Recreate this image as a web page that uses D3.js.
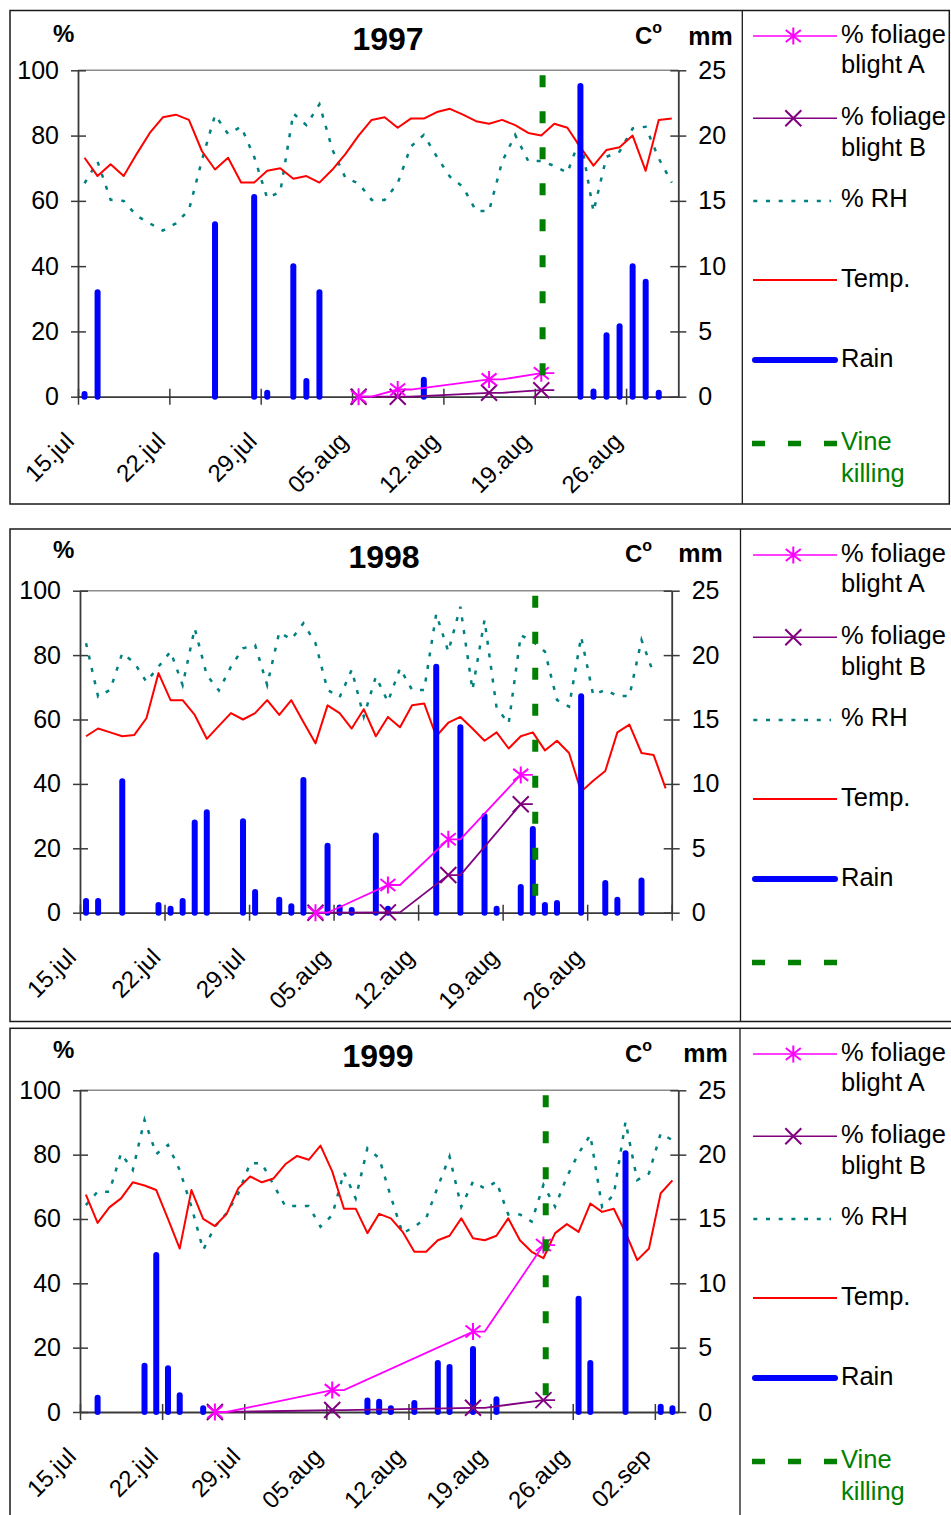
<!DOCTYPE html>
<html><head><meta charset="utf-8">
<script src="https://cdn.jsdelivr.net/npm/d3@7"></script>
<style>
body{margin:0;background:#fff}
svg{display:block}
text{font-family:Arial,"Liberation Sans",sans-serif}
</style></head>
<body><svg id="c" width="951" height="1515"></svg>
<script>
// ---------------- DATA ----------------
// 1997 (day index 0 = 15 jul)
const days1997 = 46;
const tickLabels1997 = ["15.jul","22.jul","29.jul","05.aug","12.aug","19.aug","26.aug"];
const temp1997 = [18.3,16.9,17.8,16.9,18.6,20.2,21.4,21.6,21.2,18.8,
                  17.4,18.3,16.4,16.4,17.3,17.5,16.7,16.9,16.4,17.4,
                  18.6,20.0,21.2,21.4,20.6,21.3,21.3,21.8,22.05,21.6,
                  21.1,20.9,21.2,20.8,20.2,20.0,20.9,20.6,19.1,17.7,
                  18.9,19.1,20.0,17.3,21.2,21.3];
const rh1997 = [65.4,72.0,60.3,60.0,55.4,53.1,50.9,53.1,57.2,72.5,
                86.3,80.5,82.7,73.5,60.8,62.8,86.8,83.2,89.6,75.6,
                67.0,65.4,60.3,60.3,65.4,76.6,80.2,73.5,67.4,64.3,
                56.9,56.9,72.0,80.2,72.2,72.2,70.7,68.6,79.5,56.7,
                73.5,75.1,82.2,82.7,73.0,65.6];
const rainDays1997 = [0,1,10,13,14,16,17,18,26,38,39,40,41,42,43,44];
const rain1997 =     [0.2,8.0,13.2,15.3,0.3,10.0,1.2,8.0,1.3,23.8,0.4,4.7,5.4,10.0,8.8,0.3];
const blightDays1997 = [21,22,24,25,31,32,35,36];
const blightA1997 =    [0,0,2.2,2.2,5.3,5.3,7.2,7.2];
const blightB1997 =    [0,0,0,0,1.2,1.2,2.0,2.0];
const markerDays1997 = [21,24,31,35];
const vineKill1997 = 35.1;

// 1998
const days1998 = 49;
const tickLabels1998 = ["15.jul","22.jul","29.jul","05.aug","12.aug","19.aug","26.aug"];
const temp1998 = [13.7,14.3,14.0,13.7,13.8,15.1,18.6,16.5,16.5,15.35,
                  13.5,14.5,15.5,15.0,15.5,16.5,15.35,16.5,14.8,13.15,
                  16.1,15.5,14.3,15.8,13.7,15.2,14.4,16.1,16.25,13.7,
                  14.75,15.2,14.3,13.35,14.0,12.75,13.7,14.0,12.6,13.35,
                  12.4,9.4,10.25,11.0,14.0,14.6,12.4,12.25,9.65];
const rh1998 = [83.7,67.1,69.2,80.6,77.6,71.7,76.4,81.1,70.7,88.3,
                73.8,69.0,76.4,82.1,83.1,70.7,87.1,84.9,89.9,83.7,
                69.2,66.9,75.4,60.9,73.3,65.5,75.9,69.2,69.2,92.8,
                81.1,95.0,69.2,90.9,63.6,58.8,86.2,84.2,81.1,66.1,
                64.0,85.7,67.6,69.2,67.3,67.3,84.7,74.3];
const rainDays1998 = [0,1,3,6,7,8,9,10,13,14,16,17,18,20,21,22,24,25,29,31,33,34,36,37,38,39,41,43,44,46];
const rain1998 =     [0.9,0.9,10.2,0.6,0.3,0.9,7.0,7.8,7.1,1.6,1.0,0.5,10.3,5.2,0.4,0.2,6.0,0.3,19.1,14.4,7.5,0.3,2.0,6.5,0.6,0.75,16.8,2.3,1.0,2.5];
const blightDays1998 = [19,20,25,26,30,31,36,37];
const blightA1998 =    [0,0,8.6,8.6,22.8,22.8,42.8,42.8];
const blightB1998 =    [0,0,0.1,0.1,11.7,11.7,33.7,33.7];
const markerDays1998 = [19,25,30,36];
const vineKill1998 = 37.2;

// 1999
const days1999 = 51;
const tickLabels1999 = ["15.jul","22.jul","29.jul","05.aug","12.aug","19.aug","26.aug","02.sep"];
const temp1999 = [16.9,14.7,15.9,16.6,17.85,17.6,17.25,15.0,12.7,17.25,
                  15.0,14.45,15.4,17.4,18.3,17.85,18.15,19.25,19.9,19.6,
                  20.7,18.7,15.8,15.8,13.9,15.4,15.05,14.0,12.45,12.45,
                  13.35,13.7,15.05,13.5,13.35,13.7,15.05,13.35,12.45,11.95,
                  13.9,14.6,14.0,16.2,15.55,15.8,13.95,11.8,12.7,17.0,18.0];
const rh1999 = [64.3,68.5,68.5,80.4,75.2,90.8,80.2,83.0,75.2,63.8,
                50.4,57.6,61.8,68.0,77.3,77.3,70.6,64.0,64.0,64.0,
                57.6,61.2,74.5,66.4,82.0,78.9,66.9,55.5,57.6,60.2,
                70.0,79.4,63.8,71.6,69.5,71.6,61.4,61.4,59.2,70.6,
                63.8,73.1,80.4,86.1,63.8,67.5,90.2,72.1,74.2,86.6,84.5];
const rainDays1999 = [1,5,6,7,8,10,24,25,26,28,30,31,33,35,42,43,46,49,50];
const rain1999 =     [1.1,3.6,12.2,3.4,1.3,0.3,0.9,0.8,0.3,0.7,3.8,3.5,4.9,1.0,8.8,3.8,20.1,0.4,0.3];
const blightDays1999 = [11,12,21,22,33,34,39,40];
const blightA1999 =    [0,0,6.8,6.8,25.0,25.0,51.9,51.9];
const blightB1999 =    [0,0,0.6,0.6,1.3,1.3,3.7,3.7];
const markerDays1999 = [11,21,33,39];
const vineKill1999 = 39.2;

const legendLabels = ["% foliage|blight A","% foliage|blight B","% RH","Temp.","Rain","Vine|killing"];

// ---------------- LAYOUT ----------------
const layout = [
  {year:"1997", box:[10,10.5,939.3,493.5], sep:742.3, left:78, right:678.3, top:70.3, bottom:396.7,
   pct:[63.7,41.7], title:[388,50], cdeg:[635,44.3], mm:[688.3,45], legDy:0, vineText:true},
  {year:"1998", box:[10,529,960,492.5], sep:740.5, left:80, right:671.7, top:590.7, bottom:912.7,
   pct:[63.7,558.3], title:[384,568.3], cdeg:[625,561.7], mm:[678.3,561.7], legDy:519, vineText:false},
  {year:"1999", box:[10,1028.3,960,520], sep:740, left:80, right:678.3, top:1090.3, bottom:1412,
   pct:[63.7,1058.3], title:[378,1067.3], cdeg:[625,1061.7], mm:[683.3,1062.3], legDy:1018, vineText:true}
];
const dataSets = [
  {nDays:days1997, ticks:tickLabels1997, temp:temp1997, rh:rh1997, rainDays:rainDays1997, rain:rain1997,
   bDays:blightDays1997, A:blightA1997, B:blightB1997, mDays:markerDays1997, vine:vineKill1997},
  {nDays:days1998, ticks:tickLabels1998, temp:temp1998, rh:rh1998, rainDays:rainDays1998, rain:rain1998,
   bDays:blightDays1998, A:blightA1998, B:blightB1998, mDays:markerDays1998, vine:vineKill1998},
  {nDays:days1999, ticks:tickLabels1999, temp:temp1999, rh:rh1999, rainDays:rainDays1999, rain:rain1999,
   bDays:blightDays1999, A:blightA1999, B:blightB1999, mDays:markerDays1999, vine:vineKill1999}
];

const C = {A:"#ff00ff", B:"#800080", rh:"#008080", temp:"#ff0000", rain:"#0000ff", vine:"#008000", axis:"#3a3a3a"};
const asteriskPath = "M0,-8.5V8.5M-7.5,-6L7.5,6M-7.5,6L7.5,-6";
const xPath = "M-8,-8L8,8M-8,8L8,-8";

const svg = d3.select("#c");

function styleAxis(ax, fs){
  ax.select(".domain").attr("stroke",C.axis).attr("stroke-width",1.8);
  ax.selectAll(".tick line").attr("stroke",C.axis).attr("stroke-width",1.5);
  ax.selectAll(".tick text").attr("font-size",fs).attr("fill","#000")
    .attr("font-family",'Arial,"Liberation Sans",sans-serif');
}

function drawPanel(L, D){
  const g = svg.append("g");
  const [bx,by,bw,bh] = L.box;
  g.append("rect").attr("x",bx).attr("y",by).attr("width",bw).attr("height",bh)
    .attr("fill","none").attr("stroke","#1a1a1a").attr("stroke-width",1.5);
  g.append("line").attr("x1",L.sep).attr("x2",L.sep).attr("y1",by).attr("y2",by+bh)
    .attr("stroke","#1a1a1a").attr("stroke-width",1.3);

  const x = d3.scaleLinear().domain([0,D.nDays]).range([L.left,L.right]);
  const xc = d => x(d+0.5);
  const yL = d3.scaleLinear().domain([0,100]).range([L.bottom,L.top]);
  const yR = d3.scaleLinear().domain([0,25]).range([L.bottom,L.top]);

  // headings
  g.append("text").attr("x",L.pct[0]).attr("y",L.pct[1]).attr("text-anchor","middle")
    .attr("font-size",24).attr("font-weight","bold").text("%");
  g.append("text").attr("x",L.title[0]).attr("y",L.title[1]).attr("text-anchor","middle")
    .attr("font-size",32).attr("font-weight","bold").text(L.year);
  const cd = g.append("text").attr("x",L.cdeg[0]).attr("y",L.cdeg[1])
    .attr("font-size",24).attr("font-weight","bold");
  cd.append("tspan").text("C");
  cd.append("tspan").attr("font-size",16).attr("dy",-11).text("o");
  g.append("text").attr("x",L.mm[0]).attr("y",L.mm[1])
    .attr("font-size",25).attr("font-weight","bold").text("mm");

  // frame top
  g.append("line").attr("x1",L.left).attr("x2",L.right).attr("y1",L.top).attr("y2",L.top)
    .attr("stroke","#8c8c8c").attr("stroke-width",1.5);

  // axes
  const axL = g.append("g").attr("transform",`translate(${L.left},0)`)
    .call(d3.axisLeft(yL).tickValues(d3.range(0,101,20)).tickSize(0).tickSizeOuter(0).tickPadding(19));
  styleAxis(axL, 25);
  axL.selectAll(".tick line").attr("x1",-7).attr("x2",8);

  const axR = g.append("g").attr("transform",`translate(${L.right},0)`)
    .call(d3.axisRight(yR).tickValues(d3.range(0,26,5)).tickSize(0).tickSizeOuter(0).tickPadding(20));
  styleAxis(axR, 25);
  axR.selectAll(".tick line").attr("x1",-8).attr("x2",8);

  const axB = g.append("g").attr("transform",`translate(0,${L.bottom})`)
    .call(d3.axisBottom(x).tickValues(d3.range(0,D.nDays+0.01,7)).tickSize(0).tickSizeOuter(0)
      .tickFormat((d,i)=>D.ticks[i]||""));
  styleAxis(axB, 24);
  axB.selectAll(".tick line").attr("y1",-8).attr("y2",8);
  axB.selectAll(".tick text").attr("x",-3).attr("y",46).attr("dy",null)
    .attr("text-anchor","end").attr("transform","rotate(-45,-3,46)");

  // RH
  g.append("path").attr("d",d3.line().x((v,i)=>xc(i)).y(v=>yL(v))(D.rh))
    .attr("fill","none").attr("stroke",C.rh).attr("stroke-width",2.5).attr("stroke-dasharray","4,8.7");
  // Temp
  g.append("path").attr("d",d3.line().x((v,i)=>xc(i)).y(v=>yR(v))(D.temp))
    .attr("fill","none").attr("stroke",C.temp).attr("stroke-width",2).attr("stroke-linejoin","round");
  // Rain
  g.append("g").selectAll("line").data(D.rainDays.map((d,i)=>[d,D.rain[i]])).join("line")
    .attr("x1",d=>xc(d[0])).attr("x2",d=>xc(d[0])).attr("y1",yR(0)).attr("y2",d=>yR(d[1]))
    .attr("stroke",C.rain).attr("stroke-width",6).attr("stroke-linecap","round");
  // Blight
  [["B",C.B,xPath],["A",C.A,asteriskPath]].forEach(([k,col,mk])=>{
    const pts = D.bDays.map((d,i)=>[d,D[k][i]]);
    g.append("path").attr("d",d3.line().x(p=>xc(p[0])).y(p=>yL(p[1]))(pts))
      .attr("fill","none").attr("stroke",col).attr("stroke-width",1.8);
    g.append("g").selectAll("path").data(D.mDays.map(d=>[d,D[k][D.bDays.indexOf(d)]])).join("path")
      .attr("transform",p=>`translate(${xc(p[0])},${yL(p[1])})`).attr("d",mk)
      .attr("fill","none").attr("stroke",col).attr("stroke-width",2);
  });
  // Vine killing
  g.append("line").attr("x1",xc(D.vine)).attr("x2",xc(D.vine)).attr("y1",yL(100)).attr("y2",yL(0))
    .attr("stroke",C.vine).attr("stroke-width",6).attr("stroke-dasharray","12,24").attr("stroke-dashoffset",31);

  // Legend
  const lg = g.append("g").attr("transform",`translate(0,${L.legDy})`);
  const tx = 841;
  function txt(lines, ys, col){
    lines.forEach((s,i)=>lg.append("text").attr("x",tx).attr("y",ys[i]).attr("font-size",25.5)
      .attr("fill",col||"#000").text(s));
  }
  // A
  lg.append("line").attr("x1",753).attr("x2",837).attr("y1",36).attr("y2",36).attr("stroke",C.A).attr("stroke-width",1.5);
  lg.append("path").attr("transform","translate(793.3,36)").attr("d",asteriskPath).attr("fill","none").attr("stroke",C.A).attr("stroke-width",2);
  txt(legendLabels[0].split("|"),[43.3,73.3]);
  // B
  lg.append("line").attr("x1",753).attr("x2",837).attr("y1",118.3).attr("y2",118.3).attr("stroke",C.B).attr("stroke-width",1.5);
  lg.append("path").attr("transform","translate(793.3,118.3)").attr("d",xPath).attr("fill","none").attr("stroke",C.B).attr("stroke-width",2);
  txt(legendLabels[1].split("|"),[125,155.5]);
  // RH
  lg.append("line").attr("x1",753.3).attr("x2",831).attr("y1",201).attr("y2",201).attr("stroke",C.rh).attr("stroke-width",2.5).attr("stroke-dasharray","4,8.7");
  txt([legendLabels[2]],[206.5]);
  // Temp
  lg.append("line").attr("x1",753).attr("x2",837).attr("y1",280).attr("y2",280).attr("stroke",C.temp).attr("stroke-width",2);
  txt([legendLabels[3]],[286.5]);
  // Rain
  lg.append("line").attr("x1",755).attr("x2",835).attr("y1",360).attr("y2",360).attr("stroke",C.rain).attr("stroke-width",6).attr("stroke-linecap","round");
  txt([legendLabels[4]],[367.3]);
  // Vine
  lg.append("line").attr("x1",752).attr("x2",837).attr("y1",443.5).attr("y2",443.5).attr("stroke",C.vine).attr("stroke-width",5.5).attr("stroke-dasharray","13,23");
  if(L.vineText) txt(legendLabels[5].split("|"),[449.5,481.7],C.vine);
}

layout.forEach((L,i)=>drawPanel(L,dataSets[i]));
</script>
</body></html>
